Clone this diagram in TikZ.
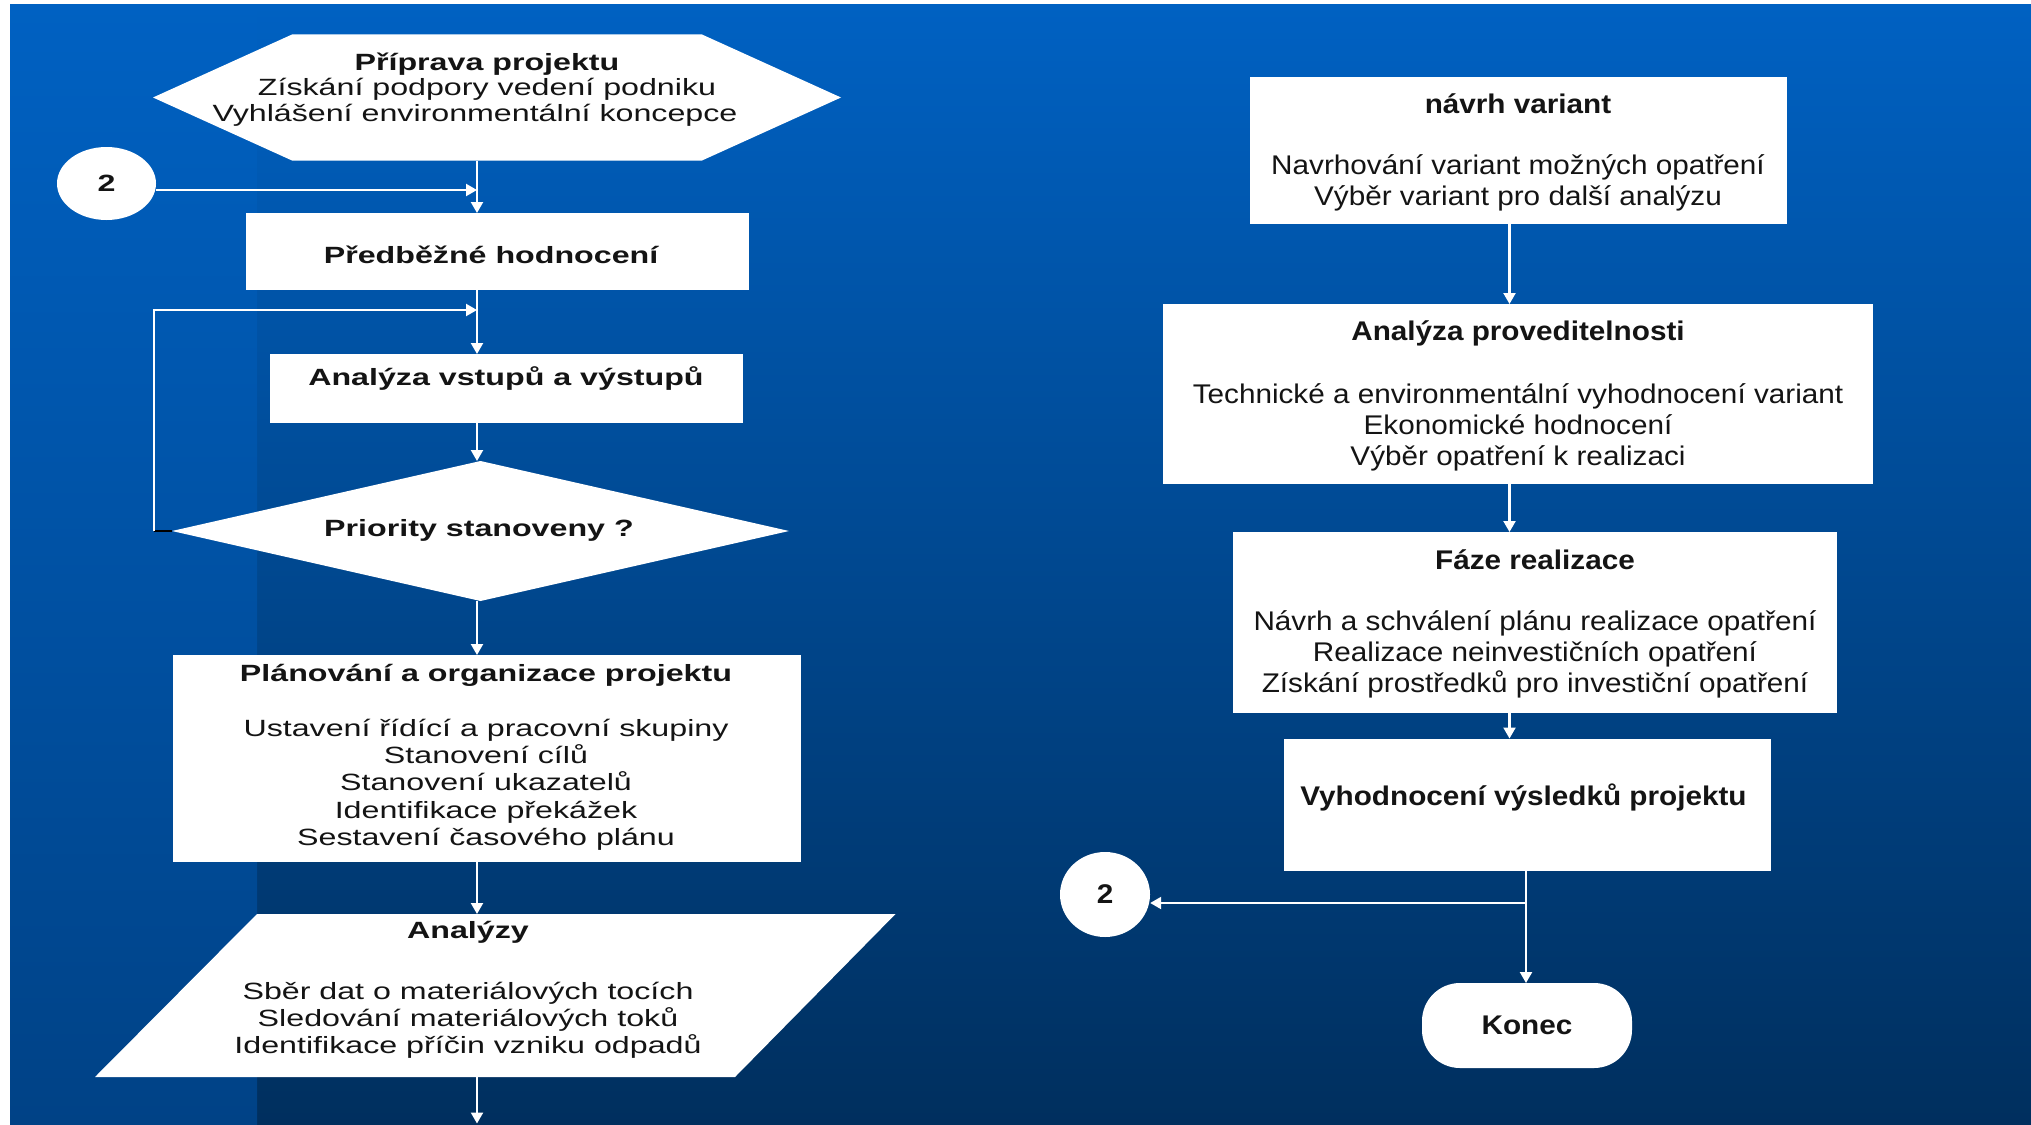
\documentclass[tikz,border=0pt]{standalone}
\usepackage{fontspec}
\setmainfont{Liberation Sans}
\newfontfamily\lfont[FakeStretch=1.37]{Liberation Sans}
\newfontfamily\rfont[FakeStretch=1.1]{Liberation Sans}
\usetikzlibrary{arrows.meta,shapes.geometric}
\definecolor{bgtop}{RGB}{0,97,194}
\definecolor{bgbot}{RGB}{0,47,94}
\definecolor{stripbot}{RGB}{0,66,134}
\definecolor{ink}{RGB}{20,20,20}

\begin{document}
\begin{tikzpicture}[x=1pt,y=-1pt,
  shapebox/.style={fill=white, draw=none, inner sep=0pt, outer sep=0pt},
  frame/.style={inner sep=0pt, outer sep=0pt},
  ltext/.style={text=ink, align=center, inner sep=0pt, font=\lfont\fontsize{23.5}{27.2}\selectfont},
  rtext/.style={text=ink, align=center, inner sep=0pt, font=\rfont\fontsize{27}{31}\selectfont},
  flow/.style={draw=white, line width=2.2pt, -{Triangle[width=12pt,length=11pt]}},
]
\useasboundingbox (0,0) rectangle (2031,1124);

% page and gradient background
\fill[white] (0,0) rectangle (2031,1124);
\shade[top color=bgtop, bottom color=bgbot] (10,5) rectangle (2031,1124);
\shade[top color=bgtop, bottom color=stripbot] (10,5) rectangle (257,1124);

% guide lines of the two columns
\coordinate (L) at (477,0);
\coordinate (R) at (1509.5,0);
\coordinate (R2) at (1526,0);
\coordinate (jA) at (477,190);
\coordinate (jB) at (477,310);
\coordinate (lp) at (154,531);
\coordinate (bot) at (477,1123.5);
\coordinate (jC) at (1526,903);

% ---------------- left column ----------------
\node[frame, minimum width=688pt, minimum height=126pt] (prep) at (497,97.5) {};
\fill[white] (prep.west) -- ([xshift=139pt]prep.north west) -- ([xshift=-139pt]prep.north east)
  -- (prep.east) -- ([xshift=-139pt]prep.south east) -- ([xshift=139pt]prep.south west) -- cycle;
\node[ltext, font=\lfont\fontsize{23.5}{25.5}\selectfont] (prept) at (487,89.5)
  {\textbf{Příprava projektu}\\Získání podpory vedení podniku\\Vyhlášení environmentální koncepce\hspace*{24pt}};

\node[ellipse, fill=white, minimum width=99pt, minimum height=73pt, inner sep=0pt, text=ink,
  font=\lfont\fontsize{23.5}{26.5}\selectfont\bfseries] (ca) at (106.5,183.5) {2};

\node[shapebox, minimum width=503pt, minimum height=77pt] (pred) at (497.4,251.5) {};
\node[ltext] (predt) at (491.5,254.5) {\textbf{Předběžné hodnocení}};

\node[shapebox, minimum width=473pt, minimum height=69pt] (ana) at (506.5,388.5) {};
\node[ltext] (anat) at (506,378.5) {\textbf{Analýza vstupů a výstupů}};

\node[frame, minimum width=617pt, minimum height=140pt] (dia) at (480.5,531) {};
\fill[white] (dia.north) -- (dia.east) -- (dia.south) -- (dia.west) -- cycle;
\node[ltext] (diat) at (479,530) {\textbf{Priority stanoveny ?}};

\node[shapebox, minimum width=628pt, minimum height=207pt] (plan) at (487,758.5) {};
\node[ltext] (plant) at (486,757) {\textbf{Plánování a organizace projektu}\\[28.3pt]Ustavení řídící a pracovní skupiny\\Stanovení cílů\\Stanovení ukazatelů\\Identifikace překážek\\Sestavení časového plánu};

\node[frame, minimum width=800.5pt, minimum height=163pt] (par) at (495.25,995.5) {};
\fill[white] ([xshift=162pt]par.north west) -- (par.north east) -- ([xshift=-160.5pt]par.south east)
  -- (par.south west) -- cycle;
\node[ltext] (part) at (468,990) {\textbf{Analýzy}\\[33pt]Sběr dat o materiálových tocích\\Sledování materiálových toků\\Identifikace příčin vzniku odpadů};

% ---------------- right column ----------------
\node[shapebox, minimum width=537pt, minimum height=147pt] (nav) at (1518.5,150.5) {};
\node[rtext] (navt) at (1518,152.5) {\textbf{návrh variant}\\[30pt]Navrhování variant možných opatření\\Výběr variant pro další analýzu};

\node[shapebox, minimum width=710pt, minimum height=180pt] (api) at (1518,394) {};
\node[rtext] (apit) at (1518,395.5) {\textbf{Analýza proveditelnosti}\\[32pt]Technické a environmentální vyhodnocení variant\\Ekonomické hodnocení\\Výběr opatření k realizaci};

\node[shapebox, minimum width=604pt, minimum height=181pt] (faze) at (1535,622.5) {};
\node[rtext] (fazet) at (1535,624) {\textbf{Fáze realizace}\\[29.5pt]Návrh a schválení plánu realizace opatření\\Realizace neinvestičních opatření\\Získání prostředků pro investiční opatření};

\node[shapebox, minimum width=486.5pt, minimum height=132.5pt] (vyh) at (1527.25,804.75) {};
\node[rtext, font=\rfont\fontsize{27}{31}\selectfont\bfseries] (vyht) at (1523.5,797) {Vyhodnocení výsledků projektu};

\node[ellipse, fill=white, minimum width=90pt, minimum height=85pt, inner sep=0pt, text=ink,
  font=\rfont\fontsize{27}{31}\selectfont\bfseries] (cb) at (1105,894.5) {2};

\node[shapebox, rounded corners=38pt, minimum width=210pt, minimum height=85pt, text=ink,
  font=\rfont\fontsize{27}{31}\selectfont\bfseries] (konec) at (1527,1025.5) {Konec};

% ---------------- connectors ----------------
\draw[flow] (prep.south -| L) -- (pred.north -| L);
\draw[flow] (ca.east |- jA) -- (jA);
\draw[flow] (pred.south -| L) -- (ana.north -| L);
\draw[flow] (ana.south -| L) -- (dia.north -| L);
\draw[black, line width=2.2pt] (dia.west) -- (lp);
\draw[flow] (lp) |- (jB);
\draw[flow] (dia.south -| L) -- (plan.north -| L);
\draw[flow] (plan.south -| L) -- (par.north -| L);
\draw[flow] (par.south -| L) -- (bot);

\draw[flow] (nav.south -| R) -- (api.north -| R);
\draw[flow] (api.south -| R) -- (faze.north -| R);
\draw[flow] (faze.south -| R) -- (vyh.north -| R);
\draw[flow] (vyh.south -| R2) -- (konec.north -| R2);
\draw[flow] (jC) -- (cb.east |- jC);
\end{tikzpicture}
\end{document}
